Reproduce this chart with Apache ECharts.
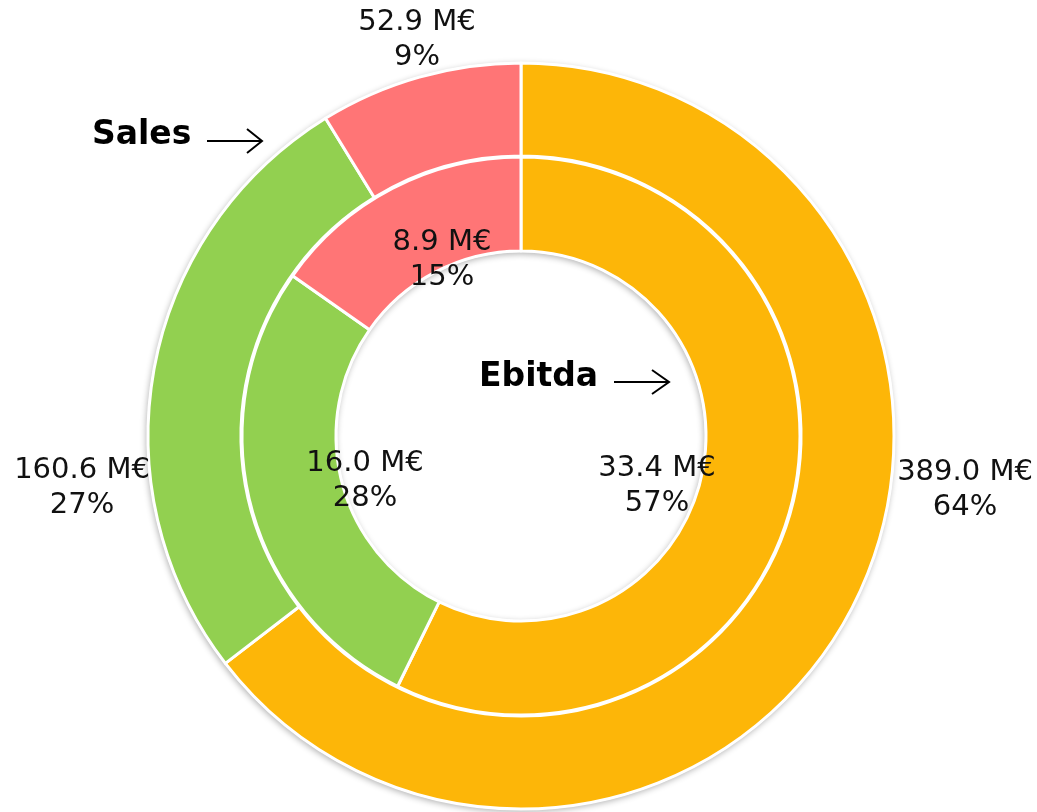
<!DOCTYPE html>
<html>
<head>
<meta charset="utf-8">
<script src="https://cdn.jsdelivr.net/npm/echarts/dist/echarts.min.js"></script>
<style>
html, body { margin: 0; background: #fff; }
#chart { width: 1037px; height: 812px; }
</style>
</head>
<body>
<div id="chart"></div>
<script>
const segments = ["Segment A", "Segment B", "Segment C"];
const salesValues = [389.0, 160.6, 52.9];
const ebitdaValues = [33.4, 16.0, 8.9];

const colors = ["#fdb608", "#92d050", "#ff7576"];
const cx = 521;
const cy = 436;
// label centres relative to the pie centre (placed like the original office chart)
const salesLabelShift = [[444, 54], [-439, 52], [-104, -396]];
const ebitdaLabelShift = [[136, 50], [-156, 45], [-79, -176]];

function ring(name, values, radius, shift) {
  return {
    name: name,
    type: "pie",
    z: 3,
    center: [cx, cy],
    radius: radius,
    startAngle: 90,
    clockwise: true,
    percentPrecision: 0,
    avoidLabelOverlap: false,
    silent: true,
    itemStyle: {
      borderColor: "#fff",
      borderWidth: 3,
    },
    label: {
      show: true,
      position: "outside",
      formatter: (p) => p.value.toFixed(1) + " M€\n" + p.percent + "%",
      fontFamily: "DejaVu Sans",
      fontSize: 29,
      lineHeight: 35,
      color: "#111",
      align: "center",
    },
    labelLine: { show: false },
    labelLayout: (p) => ({
      x: cx + shift[p.dataIndex][0],
      y: cy + shift[p.dataIndex][1],
      align: "center",
      verticalAlign: "middle",
    }),
    emphasis: { disabled: true },
    data: values.map((v, i) => ({ name: segments[i], value: v })),
  };
}

// bold title + thin arrow
function annotation(text, x, y, ax, ay, len, head) {
  return [
    {
      type: "text",
      x: x,
      y: y,
      style: {
        text: text,
        font: 'bold 33px "DejaVu Sans"',
        fill: "#000",
        textVerticalAlign: "middle",
      },
    },
    {
      type: "line",
      shape: { x1: ax, y1: ay, x2: ax + len, y2: ay },
      style: { stroke: "#000", lineWidth: 2 },
    },
    {
      type: "polyline",
      shape: {
        points: [
          [ax + len - head, ay - 12],
          [ax + len, ay],
          [ax + len - head, ay + 12],
        ],
      },
      style: { stroke: "#000", lineWidth: 2, fill: null },
    },
  ];
}

const chart = echarts.init(document.getElementById("chart"));
const option = {
  animation: false,
  color: colors,
  graphic: [
    ...annotation("Sales", 92, 135, 207, 141, 55, 15),
    ...annotation("Ebitda", 479, 377, 614, 382, 55, 17),
  ],
  series: [
    // white backdrop that carries the soft shadow round the whole donut
    {
      type: "pie",
      z: 1,
      center: [cx, cy],
      radius: [184, 374],
      silent: true,
      label: { show: false },
      labelLine: { show: false },
      itemStyle: {
        color: "#fff",
        shadowBlur: 6,
        shadowOffsetX: -1,
        shadowOffsetY: 2,
        shadowColor: "rgba(0,0,0,0.3)",
      },
      emphasis: { disabled: true },
      data: [{ name: "backdrop", value: 1 }],
    },
    ring("Sales", salesValues, [280, 373], salesLabelShift),
    ring("Ebitda", ebitdaValues, [185, 279], ebitdaLabelShift),
  ],
};
chart.setOption(option);
</script>
</body>
</html>
